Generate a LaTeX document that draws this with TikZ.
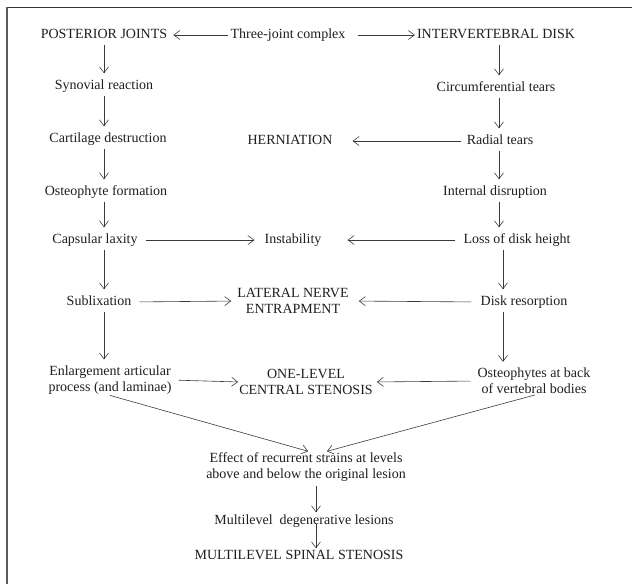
\documentclass[tikz,border=0pt]{standalone}
\usepackage{fontspec}
\setmainfont{Liberation Serif}
\usetikzlibrary{arrows.meta,calc}
\definecolor{ink}{HTML}{1E1E1E}
\definecolor{arr}{HTML}{3A3A3A}
\definecolor{frm}{HTML}{5A5A5A}
\tikzset{
  lbltwo/.style={font=\fontsize{14}{16}\selectfont, text=ink, inner sep=0pt, align=center},
  lbl/.style={lbltwo, text height=10pt, text depth=3pt},
  arw/.style={draw=arr, line width=0.6pt, -{Straight Barb[length=6pt,width=9pt]}},
  varw/.style={arw, shorten <=3pt, shorten >=6pt}
}
\begin{document}
\begin{tikzpicture}[x=1pt,y=-1pt]
\useasboundingbox (0,0) rectangle (632,584);
% frame
\draw[line width=1pt, draw=black!80] (7,7) -- (632,7);
\draw[line width=2pt, draw=frm] (7,6.5) -- (7,584);
% column coordinates
\coordinate (cL) at (104,0);
\coordinate (cR) at (499,0);
\coordinate (cR2) at (503,0);
\coordinate (cM) at (316,0);
% nodes
\node[lbl] (post) at (104,35) {POSTERIOR JOINTS};
\node[lbl] (three) at (288,35) {Three-joint complex};
\node[lbl] (ivd) at (496,35) {INTERVERTEBRAL DISK};
\node[lbl] (syn) at (104,86) {Synovial reaction};
\node[lbl] (circ) at (496,88) {Circumferential tears};
\node[lbl] (cart) at (108,139) {Cartilage destruction};
\node[lbl] (hern) at (290,141) {HERNIATION};
\node[lbl] (rad) at (500,141) {Radial tears};
\node[lbl] (ost) at (106,192) {Osteophyte formation};
\node[lbl] (int) at (495,192) {Internal disruption};
\node[lbl] (cap) at (95,240) {Capsular laxity};
\node[lbl] (inst) at (293,240) {Instability};
\node[lbl] (loss) at (517,240) {Loss of disk height};
\node[lbl] (sub) at (99,302) {Sublixation};
\node[lbltwo] (lne) at (293,301) {LATERAL NERVE\\ENTRAPMENT};
\node[lbl] (disk) at (524,302) {Disk resorption};
\node[lbltwo] (enl) at (110,380) {Enlargement articular\\process (and laminae)};
\node[lbltwo] (one) at (306,382) {ONE-LEVEL\\CENTRAL STENOSIS};
\node[lbltwo] (osb) at (534,381) {Osteophytes at back\\of vertebral bodies};
\node[lbltwo] (eff) at (306,467) {Effect of recurrent strains at levels\\above and below the original lesion};
\node[lbl] (mdl) at (304,521) {Multilevel~ degenerative lesions};
\node[lbl] (mss) at (299,556) {MULTILEVEL SPINAL STENOSIS};
% horizontal arrows
\draw[arw, shorten <=2pt, shorten >=6pt] (three.west) -- (post.east);
\draw[arw, shorten <=12pt, shorten >=2pt] (three.east) -- (ivd.west);
\draw[arw, shorten <=6pt, shorten >=20pt] (rad.west) -- (hern.east);
\draw[arw, shorten <=8pt, shorten >=10pt] (cap.east) -- (inst.west);
\draw[arw, shorten <=8pt, shorten >=26pt] (loss.west) -- (inst.east);
\draw[arw, shorten <=8pt, shorten >=6pt] (sub.east) -- (lne.west);
\draw[arw, shorten <=9pt, shorten >=10pt] (disk.west) -- (lne.east);
\draw[arw, shorten <=7pt, shorten >=1pt] (enl.east) -- (one.west);
\draw[arw, shorten <=7pt, shorten >=4pt] (osb.west) -- (one.east);
% vertical arrows, left column
\draw[varw] (post.south -| cL) -- (syn.north -| cL);
\draw[varw] (syn.south -| cL) -- (cart.north -| cL);
\draw[varw] (cart.south -| cL) -- (ost.north -| cL);
\draw[varw] (ost.south -| cL) -- (cap.north -| cL);
\draw[varw] (cap.south -| cL) -- (sub.north -| cL);
\draw[varw] (sub.south -| cL) -- (enl.north -| cL);
% vertical arrows, right column
\draw[varw] (ivd.south -| cR) -- (circ.north -| cR);
\draw[varw] (circ.south -| cR) -- (rad.north -| cR);
\draw[varw] (rad.south -| cR) -- (int.north -| cR);
\draw[varw] (int.south -| cR) -- (loss.north -| cR);
\draw[varw] (loss.south -| cR2) -- (disk.north -| cR2);
\draw[varw] (disk.south -| cR2) -- (osb.north -| cR2);
% converging arrows
\draw[arw, shorten <=3pt, shorten >=4pt] ([xshift=-3pt]enl.south) -- ([xshift=6pt]eff.north);
\draw[arw, shorten <=3pt, shorten >=4pt] ([xshift=4pt]osb.south) -- ([xshift=17pt]eff.north);
% bottom chain
\draw[arw, shorten <=4pt, shorten >=2pt] (eff.south -| cM) -- (mdl.north -| cM);
\draw[arw, shorten <=-4pt, shorten >=1pt] (mdl.south -| cM) -- (mss.north -| cM);
\end{tikzpicture}
\end{document}
